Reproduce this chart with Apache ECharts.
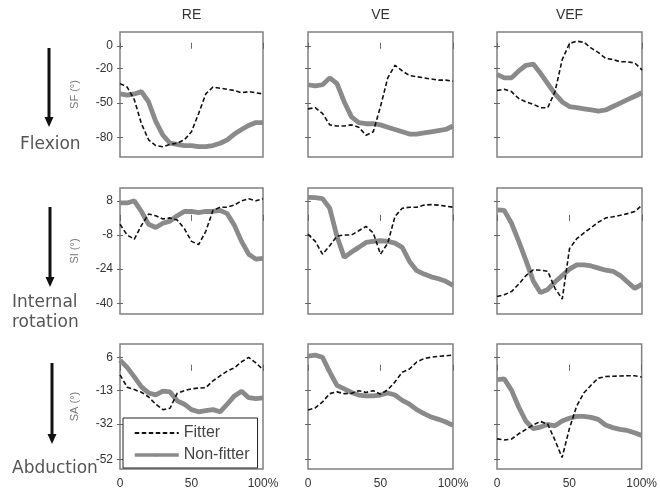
<!DOCTYPE html>
<html><head><meta charset="utf-8">
<script src="https://cdn.jsdelivr.net/npm/echarts@6/dist/echarts.min.js"></script>
<style>html,body{margin:0;padding:0;background:#fff}#c{width:660px;height:495px}</style>
</head><body><div id="c"></div>
<script>
// ---- data ----
const xPct = [0,5,10,15,20,25,30,35,40,45,50,55,60,65,70,75,80,85,90,95,100];
const columns = ['RE','VE','VEF'];
const rowLabels = ['Flexion','Internal\nrotation','Abduction'];
const yNames = ['SF (°)','SI (°)','SA (°)'];
const yTicksSF = [0,-20,-50,-80];
const yTicksSI = [8,-8,-24,-40];
const yTicksSA = [6,-13,-32,-52];
const xTicks = [0,50,100];
const seriesNames = ['Fitter','Non-fitter'];

const fitRE_SF  = [-33,-36,-47,-68,-82,-87,-88,-86,-85,-82,-75,-59,-42,-36,-37,-38,-39,-41,-40,-41,-42];
const nonRE_SF  = [-42,-43,-42,-40,-49,-66,-78,-85,-86,-87,-87,-88,-88,-87,-85,-82,-77,-73,-69.5,-67,-67];
const fitVE_SF  = [-55,-54,-59,-69,-70,-70,-69,-71,-78,-75,-53,-28,-17,-22,-26,-27,-28,-29,-30,-30,-31];
const nonVE_SF  = [-34,-35,-34,-28,-33,-49,-62,-67,-68,-68,-69,-71,-73,-75,-77,-77,-76,-75,-74,-73,-70];
const fitVEF_SF = [-39,-38,-40,-46,-49,-51,-54,-54,-40,-12,2,4,3,-2,-6,-11,-12,-14,-14,-15,-21];
const nonVEF_SF = [-25,-28,-28,-22,-17,-16,-24,-33,-42,-49,-53,-54,-55,-56,-57,-56,-53,-50,-47,-44,-41];

const fitRE_SI  = [-3,-8,-10,-3.5,1.8,1,-0.5,0,-1,-5,-11,-12.5,-6.3,3.5,5,5,6,8,9,8,9];
const nonRE_SI  = [7,7,8,3,-3,-4.5,-2.5,-1.5,1,3,3,2.5,3,3,3.5,2,-3.5,-11,-17,-19.3,-19];
const fitVE_SI  = [-7.6,-11,-17,-13,-8.5,-8,-8,-6,-4,-7,-17,-11.8,0.7,4.5,5,5,6,6.2,6,5.5,5];
const nonVE_SI  = [9.6,9.5,9,4.5,-8.7,-18.5,-16,-13.8,-11.5,-11,-10.7,-11,-11.8,-13.8,-20.4,-24.7,-26.3,-27.6,-28.5,-29.7,-31.6];
const fitVEF_SI = [-36.8,-36,-34.5,-31,-27,-24.3,-24.5,-25,-33,-38,-14.4,-9.7,-7,-4.5,-2,0,0.5,1.2,2,3,6];
const nonVEF_SI = [3.8,3.5,-2.5,-11,-20,-29.5,-35,-33.5,-30,-27,-24,-22,-22,-22.5,-23.5,-24.5,-25,-27,-30,-33,-31];

const fitRE_SA  = [-4,-11,-12.4,-13.9,-16.6,-20.7,-23.8,-23,-14.5,-13,-12,-11.5,-11.3,-7.4,-4.6,-1.9,0,3.4,5.9,2.8,-1];
const nonRE_SA  = [4.3,0.2,-5.2,-10.9,-14.3,-15.4,-13.3,-13.7,-18.8,-20.7,-23.8,-25,-24.4,-23.8,-25,-20.7,-16,-13.3,-17,-17.5,-17.1];
const fitVE_SA  = [-24,-22.8,-19.4,-14.7,-13.7,-14.7,-14.5,-13,-14,-13,-15,-12.5,-8,-2.5,-0.7,3.3,5.2,6,6.5,6.8,7.2];
const nonVE_SA  = [6.6,7.2,6,-2.5,-10,-12,-14,-15.5,-16,-16,-15.5,-14.3,-15.5,-18.5,-20.7,-23.8,-26,-28,-29.3,-30.8,-32.7];
const fitVEF_SA = [-40.4,-41,-40.5,-37.5,-35,-32.5,-30.5,-32,-41,-51,-34.7,-21.9,-14.3,-9.9,-5.9,-5,-4.8,-4.7,-4.5,-4.5,-5.2];
const nonVEF_SA = [-6.7,-6.3,-12.7,-22.3,-30.4,-34.6,-33.7,-32.2,-33,-30.2,-28.7,-27.6,-27.6,-28.2,-29.3,-32.5,-34,-35,-35.6,-36.9,-38.4];

// ---- layout ----
const panelData = [
  [[fitRE_SF, nonRE_SF],[fitVE_SF, nonVE_SF],[fitVEF_SF, nonVEF_SF]],
  [[fitRE_SI, nonRE_SI],[fitVE_SI, nonVE_SI],[fitVEF_SI, nonVEF_SI]],
  [[fitRE_SA, nonRE_SA],[fitVE_SA, nonVE_SA],[fitVEF_SA, nonVEF_SA]]
];
const rowTicks = [yTicksSF, yTicksSI, yTicksSA];
const rowRange = [[-97,12],[-45,14],[-57.5,13.5]];
const colLeft = [120,308,497], colWidth = [143,145,145];
const rowTop = [32,188,344], rowHeight = [125,126,125];
const FONT = 'Liberation Sans, Arial, sans-serif';

const grid = [], xAxis = [], yAxis = [], series = [];
for (let r = 0; r < 3; r++) {
  for (let c = 0; c < 3; c++) {
    const gi = grid.length;
    grid.push({left: colLeft[c], top: rowTop[r], width: colWidth[c], height: rowHeight[r],
      show: true, borderColor: '#808080', borderWidth: 1.5, backgroundColor: '#fff'});
    const lastRow = r === 2;
    xAxis.push({gridIndex: gi, type: 'value', min: 0, max: 100, interval: 50,
      axisLine: {show: false}, splitLine: {show: false},
      axisTick: {show: true, inside: true, length: 3, lineStyle: {color: '#666'}},
      axisLabel: {show: lastRow, margin: 9, fontSize: 12, fontFamily: FONT, color: '#333',
        formatter: v => v === 100 ? '100%' : String(v)}});
    xAxis.push({gridIndex: gi, type: 'value', position: 'top', min: 0, max: 100, interval: 50,
      axisLine: {show: false}, splitLine: {show: false}, axisLabel: {show: false},
      axisTick: {show: true, inside: true, length: 3, lineStyle: {color: '#666'}}});
    const [mn, mx] = rowRange[r];
    yAxis.push({gridIndex: gi, type: 'value', min: mn, max: mx,
      name: c === 0 ? yNames[r] : '', nameLocation: 'middle', nameGap: 40, nameRotate: 90,
      nameTextStyle: {fontSize: 11, fontFamily: FONT, color: '#777'},
      axisLine: {show: false}, splitLine: {show: false},
      axisTick: {show: true, inside: true, length: 3, customValues: rowTicks[r], lineStyle: {color: '#666'}},
      axisLabel: {show: c === 0, customValues: rowTicks[r], margin: 7, fontSize: 12, fontFamily: FONT, color: '#333'}});
    yAxis.push({gridIndex: gi, type: 'value', position: 'right', min: mn, max: mx,
      axisLine: {show: false}, splitLine: {show: false}, axisLabel: {show: false},
      axisTick: {show: true, inside: true, length: 3, customValues: rowTicks[r], lineStyle: {color: '#666'}}});
    const [fit, non] = panelData[r][c];
    series.push({name: seriesNames[1], type: 'line', xAxisIndex: gi*2, yAxisIndex: gi*2,
      data: xPct.map((x,i) => [x, non[i]]), symbol: 'circle', symbolSize: 4, showSymbol: false,
      itemStyle: {color: '#8a8a8a'}, lineStyle: {color: '#8a8a8a', width: 4.8}, z: 2, silent: true});
    series.push({name: seriesNames[0], type: 'line', xAxisIndex: gi*2, yAxisIndex: gi*2,
      data: xPct.map((x,i) => [x, fit[i]]), symbol: 'none',
      itemStyle: {color: '#111'}, lineStyle: {color: '#111', width: 1.6, type: [4.5,2.5]}, z: 3, silent: true});
  }
}

function arrow(x, y1, y2) {
  return [
    {type: 'line', shape: {x1: x, y1: y1, x2: x, y2: y2 - 8}, style: {stroke: '#111', lineWidth: 3}},
    {type: 'polygon', shape: {points: [[x-4.5, y2-10],[x+4.5, y2-10],[x, y2]]}, style: {fill: '#111'}}
  ];
}
const graphic = [];
columns.forEach((t, c) => graphic.push({type: 'text', x: colLeft[c] + colWidth[c]/2, y: 15,
  style: {text: t, align: 'center', verticalAlign: 'middle', font: '14px ' + FONT, fill: '#333'}}));
graphic.push(...arrow(49, 48, 127), ...arrow(50, 207, 287), ...arrow(52, 363, 444));
graphic.push({type: 'text', x: 20, y: 145, style: {text: rowLabels[0], verticalAlign: 'middle', font: '17px DejaVu Sans', fill: '#555'}});
graphic.push({type: 'text', x: 12, y: 313, style: {text: rowLabels[1], verticalAlign: 'middle', font: '17px DejaVu Sans', fill: '#555', lineHeight: 20}});
graphic.push({type: 'text', x: 12, y: 469, style: {text: rowLabels[2], verticalAlign: 'middle', font: '17px DejaVu Sans', fill: '#555'}});

const chart = echarts.init(document.getElementById('c'), null, {renderer: 'canvas'});
chart.setOption({
  animation: false,
  backgroundColor: '#fff',
  grid, xAxis, yAxis, series, graphic,
  legend: {
    data: [
      {name: seriesNames[0], itemStyle: {opacity: 0}},
      {name: seriesNames[1], lineStyle: {width: 3.5}}
    ],
    orient: 'vertical', left: 123, top: 418,
    itemWidth: 44, itemHeight: 4, itemGap: 6, padding: [7, 8, 5, 10],
    borderColor: '#222', borderWidth: 1, backgroundColor: '#fff',
    textStyle: {fontSize: 16, fontFamily: FONT, color: '#444'}, z: 10}
});
</script></body></html>
